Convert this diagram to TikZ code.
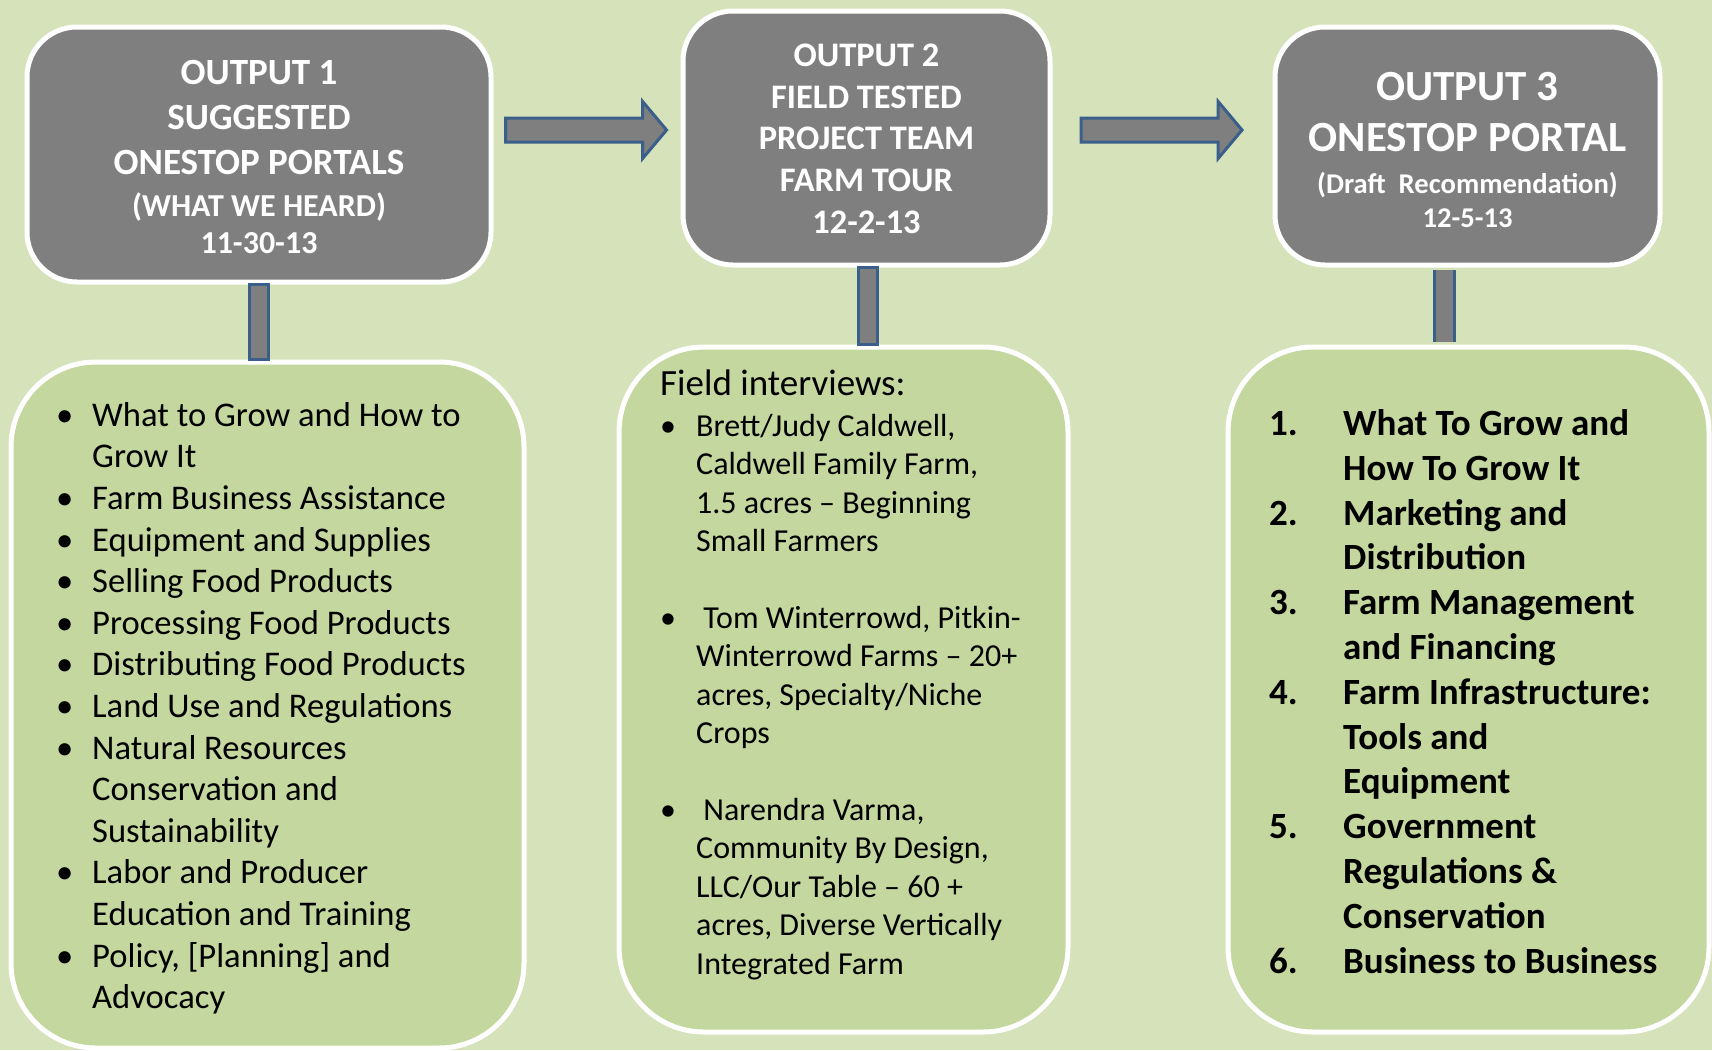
\documentclass[tikz,border=0pt]{standalone}
\usepackage{fontspec}
\setmainfont{Carlito}
\usetikzlibrary{shapes.arrows}
\definecolor{bgcol}{HTML}{D5E2BA}
\definecolor{listcol}{HTML}{C4D79E}
\definecolor{boxgray}{HTML}{7F7F7F}
\definecolor{edgeblue}{HTML}{3A5F8B}
\newcommand\bul{\makebox[36pt][l]{\textbullet}}
\newcommand\bulpad{\hspace*{36pt}}
\newcommand\itemno[1]{\makebox[74pt][l]{#1}}
\newcommand\nopad{\hspace*{74pt}}

\begin{document}
\begin{tikzpicture}[x=1pt,y=-1pt,
    outbox/.style={rectangle, rounded corners=50pt, fill=boxgray, draw=white, line width=5pt, text=white, align=center},
    listbox/.style={rectangle, rounded corners=85pt, fill=listcol, draw=white, line width=5pt},
    listtext/.style={anchor=north west, inner sep=0pt, align=left},
    fatarrow/.style={single arrow, single arrow head extend=16.5pt, single arrow tip angle=100, minimum height=161pt, inner xsep=0pt, inner ysep=10.5pt, fill=boxgray, draw=edgeblue, line width=3pt},
    stem/.style={fill=boxgray, draw=edgeblue, line width=3pt}]
    \useasboundingbox (0,0) rectangle (1712,1050);
    \fill[bgcol] (0,0) rectangle (1712,1050);
    % output boxes
    \node[outbox, minimum width=464pt, minimum height=255pt, font=\fontsize{37}{45}\selectfont\bfseries] (out1) at (259,154.5)
        {\rule{0pt}{29pt}OUTPUT 1\\SUGGESTED\\ONESTOP PORTALS\\[-2.5pt]\fontsize{32}{37}\selectfont(WHAT WE HEARD)\\[-8pt]\fontsize{32}{37}\selectfont 11-30-13};
    \node[outbox, minimum width=367pt, minimum height=254pt, font=\fontsize{34.4}{41.8}\selectfont\bfseries] (out2) at (866.5,138)
        {\rule{0pt}{24pt}OUTPUT 2\\FIELD TESTED\\PROJECT TEAM\\FARM TOUR\\12-2-13};
    \node[outbox, minimum width=385pt, minimum height=238pt, font=\fontsize{43}{51.5}\selectfont\bfseries] (out3) at (1467.5,146)
        {\rule{0pt}{36pt}OUTPUT 3\\ONESTOP PORTAL\\[-9.3pt]\fontsize{28.6}{34}\selectfont(Draft\ \ Recommendation)\\[-17.5pt]\fontsize{28.6}{34}\selectfont 12-5-13};
    % list boxes
    \node[listbox, minimum width=513pt, minimum height=686pt] (list1) at (267.5,705) {};
    \node[listbox, minimum width=449pt, minimum height=685pt] (list2) at (843.5,689.5) {};
    \node[listbox, minimum width=481pt, minimum height=685pt] (list3) at (1468.5,689.5) {};
    % arrows
    \node[fatarrow] (ar12) at (581,130) {};
    \node[fatarrow] (ar23) at (1156.5,130) {};
    % stems
    \draw[stem] ([xshift=-9.5pt]out1.south) rectangle ([xshift=9.5pt]out1.south |- list1.north);
    \draw[stem] ([xshift=-8.5pt]out2.south) rectangle ([xshift=10.5pt]out2.south |- list2.north);
    \path ([xshift=-33.5pt,yshift=-2.5pt]out3.south) coordinate (s3a)
          ([xshift=-14.5pt,yshift=2.5pt]list3.north) coordinate (s3b);
    \fill[boxgray] (s3a) rectangle (s3b);
    \draw[edgeblue, line width=3pt] (s3a) -- (s3a |- s3b) (s3b) -- (s3b |- s3a);
    % list texts
    \node[listtext, font=\fontsize{34.6}{41.6}\selectfont] (items1) at (56,402) {%
        \bul What to Grow and How to\\
        \bulpad Grow It\\
        \bul Farm Business Assistance\\
        \bul Equipment and Supplies\\
        \bul Selling Food Products\\
        \bul Processing Food Products\\
        \bul Distributing Food Products\\
        \bul Land Use and Regulations\\
        \bul Natural Resources\\
        \bulpad Conservation and\\
        \bulpad Sustainability\\
        \bul Labor and Producer\\
        \bulpad Education and Training\\
        \bul Policy, [Planning] and\\
        \bulpad Advocacy};
    \node[listtext, font=\fontsize{32}{38.4}\selectfont] (items2) at (660,369.7) {%
        \fontsize{37}{43}\selectfont Field interviews:\\[2.4pt]
        \bul Brett/Judy Caldwell,\\
        \bulpad Caldwell Family Farm,\\
        \bulpad 1.5 acres -- Beginning\\
        \bulpad Small Farmers\\
        \mbox{}\\
        \bul\ Tom Winterrowd, Pitkin-\\
        \bulpad Winterrowd Farms -- 20+\\
        \bulpad acres, Specialty/Niche\\
        \bulpad Crops\\
        \mbox{}\\
        \bul\ Narendra Varma,\\
        \bulpad Community By Design,\\
        \bulpad LLC/Our Table -- 60 +\\
        \bulpad acres, Diverse Vertically\\
        \bulpad Integrated Farm};
    \node[listtext, font=\fontsize{37}{44.8}\selectfont\bfseries] (items3) at (1269,409.4) {%
        \itemno{1.}What To Grow and\\
        \nopad How To Grow It\\
        \itemno{2.}Marketing and\\
        \nopad Distribution\\
        \itemno{3.}Farm Management\\
        \nopad and Financing\\
        \itemno{4.}Farm Infrastructure:\\
        \nopad Tools and\\
        \nopad Equipment\\
        \itemno{5.}Government\\
        \nopad Regulations \&\\
        \nopad Conservation\\
        \itemno{6.}Business to Business};
\end{tikzpicture}
\end{document}
